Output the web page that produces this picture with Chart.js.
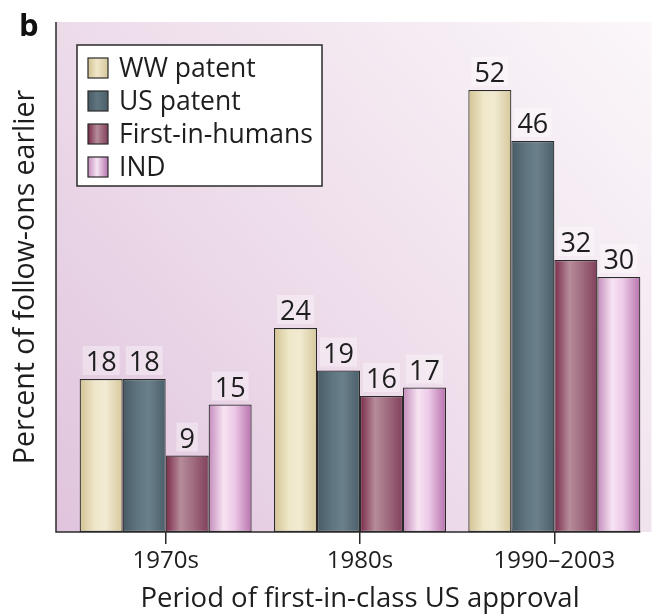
<!DOCTYPE html>
<html>
<head>
<meta charset="utf-8">
<script src="https://cdn.jsdelivr.net/npm/chart.js@4.4.0/dist/chart.umd.min.js"></script>
<style>
  html, body { margin: 0; padding: 0; background: #fff; }
  #wrap { width: 653px; height: 615px; }
</style>
</head>
<body>
<div id="wrap"><canvas id="grafica"></canvas></div>
<script>
// datos
const periodos = ['1970s', '1980s', '1990–2003'];
const series = ['WW patent', 'US patent', 'First-in-humans', 'IND'];
const wwPatent = [18, 24, 52];
const usPatent = [18, 19, 46];
const firstInHumans = [9, 16, 32];
const ind = [15, 17, 30];
const yMax = 60;

// degradados horizontales de cada barra (borde, centro, borde)
const paletas = [
  ['#d2c393', '#efe7c9', '#f2ebd3', '#d6c89a'],
  ['#475b65', '#5f7580', '#6a808a', '#4a5f69'],
  ['#7a2a4a', '#b68c9a', '#a37083', '#82405b'],
  ['#c48abb', '#f6e4f2', '#edc9e7', '#b672ad']
];
const TXT = '#1e1e1e';
const FUENTE = "'Open Sans', 'DejaVu Sans', sans-serif";
const EJE_X = 56; // linea vertical del eje a la izquierda del area

const fondo = {
  id: 'fondo',
  beforeDraw(chart) {
    const { ctx, chartArea } = chart;
    ctx.save();
    ctx.fillStyle = '#fff';
    ctx.fillRect(0, 0, chart.width, chart.height);
    const g = ctx.createLinearGradient(EJE_X, chartArea.bottom, chartArea.right, chartArea.top);
    g.addColorStop(0, '#e0c4dd');
    g.addColorStop(0.5, '#efdfec');
    g.addColorStop(1, '#fbf7fa');
    ctx.fillStyle = g;
    ctx.fillRect(EJE_X, chartArea.top, chartArea.right - EJE_X, chartArea.bottom - chartArea.top);
    // letra del panel
    ctx.fillStyle = '#111';
    ctx.font = "bold 31px " + FUENTE;
    ctx.textBaseline = 'top';
    ctx.fillText('b', 19, 12);
    ctx.restore();
  },
  beforeDatasetsDraw(chart) {
    const { ctx } = chart;
    chart.data.datasets.forEach((ds, i) => {
      const meta = chart.getDatasetMeta(i);
      meta.data.forEach(bar => {
        const x0 = bar.x - bar.width / 2;
        const g = ctx.createLinearGradient(x0, 0, x0 + bar.width, 0);
        const p = paletas[i];
        g.addColorStop(0, p[0]);
        g.addColorStop(0.35, p[1]);
        g.addColorStop(0.6, p[2]);
        g.addColorStop(1, p[3]);
        bar.options.backgroundColor = g;
      });
    });
  },
  afterDatasetsDraw(chart) {
    const { ctx, chartArea } = chart;
    ctx.save();
    // etiquetas de valor
    ctx.font = "27px " + FUENTE;
    ctx.textAlign = 'center';
    ctx.textBaseline = 'bottom';
    chart.data.datasets.forEach((ds, i) => {
      chart.getDatasetMeta(i).data.forEach((bar, j) => {
        const txt = String(ds.data[j]);
        const w = ctx.measureText(txt).width;
        ctx.fillStyle = 'rgba(255,255,255,0.35)';
        ctx.fillRect(bar.x - w / 2 - 3, bar.y - 33, w + 6, 29);
        ctx.fillStyle = TXT;
        ctx.fillText(txt, bar.x, bar.y - 2);
      });
    });
    // ejes
    const ultimo = chart.getDatasetMeta(3).data[2];
    ctx.strokeStyle = '#2a2a2a';
    ctx.lineWidth = 1.5;
    ctx.beginPath();
    ctx.moveTo(EJE_X, chartArea.top);
    ctx.lineTo(EJE_X, chartArea.bottom);
    ctx.lineTo(ultimo.x + ultimo.width / 2, chartArea.bottom);
    ctx.stroke();
    // leyenda
    const lx = chartArea.left + 8.5, ly = chartArea.top + 23;
    ctx.fillStyle = '#fff';
    ctx.fillRect(lx, ly, 245, 141);
    ctx.lineWidth = 1.5;
    ctx.strokeRect(lx, ly, 245, 141);
    ctx.font = "26.5px " + FUENTE;
    ctx.textAlign = 'left';
    ctx.textBaseline = 'middle';
    series.forEach((nombre, i) => {
      const cy = ly + 23 + i * 33;
      const g = ctx.createLinearGradient(lx + 11, 0, lx + 31, 0);
      g.addColorStop(0, paletas[i][0]);
      g.addColorStop(0.45, paletas[i][1]);
      g.addColorStop(1, paletas[i][3]);
      ctx.fillStyle = g;
      ctx.fillRect(lx + 11, cy - 10, 20, 20);
      ctx.lineWidth = 1.2;
      ctx.strokeRect(lx + 11, cy - 10, 20, 20);
      ctx.fillStyle = TXT;
      ctx.fillText(nombre, lx + 42, cy + 1);
    });
    ctx.restore();
  }
};

const colorPlano = (i) => (ctx) => paletas[i][1];

new Chart(document.getElementById('grafica'), {
  type: 'bar',
  data: {
    labels: periodos,
    datasets: [
      { label: series[0], data: wwPatent, backgroundColor: colorPlano(0) },
      { label: series[1], data: usPatent, backgroundColor: colorPlano(1) },
      { label: series[2], data: firstInHumans, backgroundColor: colorPlano(2) },
      { label: series[3], data: ind, backgroundColor: colorPlano(3) }
    ]
  },
  options: {
    responsive: true,
    maintainAspectRatio: false,
    animation: false,
    layout: { padding: { top: 22, right: 1.5, bottom: 0, left: 0 } },
    datasets: {
      bar: {
        categoryPercentage: 0.885,
        barPercentage: 1,
        borderColor: '#2a2a2a',
        borderWidth: 1.2,
        borderSkipped: false
      }
    },
    plugins: {
      legend: { display: false },
      tooltip: { enabled: false }
    },
    scales: {
      x: {
        afterFit(scale) { scale.height = 83; },
        border: { display: false },
        grid: {
          offset: false,
          drawOnChartArea: false,
          drawTicks: true,
          tickLength: 12,
          color: '#2a2a2a',
          lineWidth: 1.5
        },
        ticks: {
          color: TXT,
          padding: 3,
          font: { family: FUENTE, size: 24 }
        },
        title: {
          display: true,
          text: 'Period of first-in-class US approval',
          color: TXT,
          font: { family: FUENTE, size: 27.5, lineHeight: 1 },
          padding: { top: 0, bottom: 2 }
        }
      },
      y: {
        min: 0,
        max: yMax,
        afterFit(scale) { scale.width = 68.5; },
        border: { display: false },
        grid: { display: false },
        ticks: { display: false },
        title: {
          display: true,
          text: 'Percent of follow-ons earlier',
          color: TXT,
          font: { family: FUENTE, size: 28.5, lineHeight: 1 },
          padding: { top: 12, bottom: 0 }
        }
      }
    }
  },
  plugins: [fondo]
});
</script>
</body>
</html>
